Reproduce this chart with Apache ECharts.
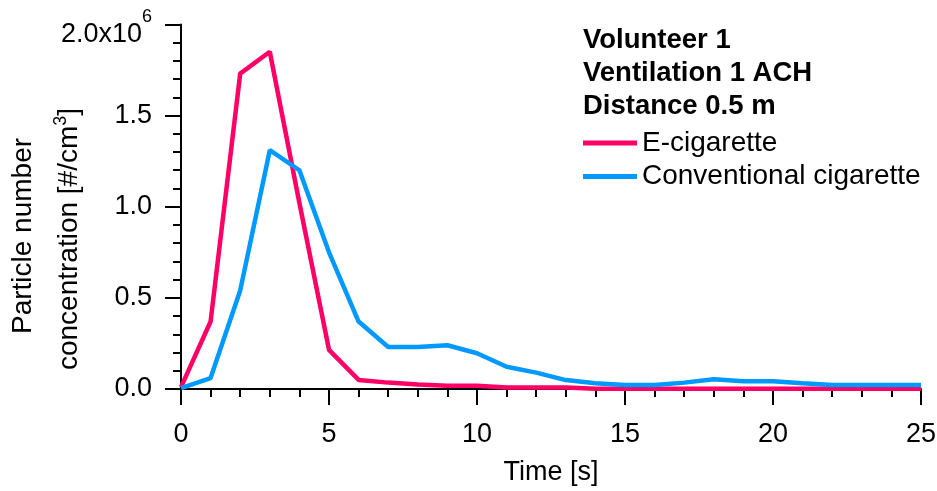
<!DOCTYPE html>
<html><head><meta charset="utf-8">
<script src="https://cdn.jsdelivr.net/npm/echarts@6/dist/echarts.min.js"></script>
<style>html,body{margin:0;padding:0;background:#fff}#c{width:937px;height:491px}</style>
</head><body><div id="c"></div>
<script>
// Time [s]
const time = [0,1,2,3,4,5,6,7,8,9,10,11,12,13,14,15,16,17,18,19,20,21,22,23,24,25];
// Particle number concentration, in units of 10^6 #/cm3
const eCigarette = [0.01,0.37,1.73,1.85,1.02,0.215,0.05,0.035,0.025,0.018,0.018,0.008,0.008,0.008,0.002,0.002,0.002,0.002,0.002,0.002,0.002,0.002,0.002,0.002,0.002,0.002];
const conventionalCigarette = [0.005,0.06,0.54,1.31,1.2,0.75,0.37,0.23,0.23,0.24,0.196,0.122,0.09,0.049,0.031,0.022,0.022,0.035,0.053,0.042,0.042,0.031,0.022,0.022,0.022,0.022];
const seriesNames = ['E-cigarette','Conventional cigarette'];
const xTickLabels = ['0','5','10','15','20','25'];
const yTickLabels = ['0.0','0.5','1.0','1.5','2.0x10'];
const yTopExponent = '6';
const titleLines = ['Volunteer 1','Ventilation 1 ACH','Distance 0.5 m'];
const yNameLines = ['Particle number','concentration [#/cm','3',']'];
const xName = 'Time [s]';

const FONT = '"Liberation Sans", Arial, sans-serif';
const pair = (ys) => time.map((t,i) => [t, ys[i]]);
const axisLineStyle = {color:'#000', width:2};

const chart = echarts.init(document.getElementById('c'), null, {renderer:'canvas'});
chart.setOption({
  animation:false,
  backgroundColor:'#fff',
  textStyle:{fontFamily:FONT},
  grid:{left:181, right:16, top:24.4, bottom:102, containLabel:false, outerBoundsMode:'none'},
  title:{
    text: titleLines.join('\n'), left:578, top:19,
    textStyle:{fontFamily:FONT, fontWeight:'bold', fontSize:27.5, lineHeight:33, color:'#000'}
  },
  legend:{
    data: seriesNames, orient:'vertical', left:578, top:124, itemGap:5.4,
    itemWidth:54, itemHeight:5, icon:'rect',
    textStyle:{fontFamily:FONT, fontSize:28, lineHeight:28, color:'#000'}
  },
  xAxis:{
    type:'value', min:0, max:25, interval:5, offset:4,
    axisLine:{show:true, lineStyle:axisLineStyle},
    axisTick:{show:true, length:16, lineStyle:axisLineStyle},
    minorTick:{show:true, splitNumber:5, length:8, lineStyle:axisLineStyle},
    splitLine:{show:false}, minorSplitLine:{show:false},
    axisLabel:{fontFamily:FONT, fontSize:27, color:'#000', margin:28,
      formatter:(v)=> xTickLabels[Math.round(v/5)]},
    name:xName, nameLocation:'middle', nameGap:66,
    nameTextStyle:{fontFamily:FONT, fontSize:27, color:'#000'}
  },
  yAxis:{
    type:'value', min:0, max:2, interval:0.5, offset:6,
    axisLine:{show:true, lineStyle:axisLineStyle},
    axisTick:{show:true, length:16, lineStyle:axisLineStyle},
    minorTick:{show:true, splitNumber:5, length:8, lineStyle:axisLineStyle},
    splitLine:{show:false}, minorSplitLine:{show:false},
    axisLabel:{fontFamily:FONT, fontSize:27, color:'#000', margin:23,
      formatter:(v)=>{ const i=Math.round(v/0.5); return i===4 ? '{a|'+yTickLabels[i]+'}{b|'+yTopExponent+'}' : yTickLabels[i]; },
      rich:{
        a:{fontFamily:FONT, fontSize:27, color:'#000', padding:[20,0,0,0]},
        b:{fontFamily:FONT, fontSize:18, color:'#000', verticalAlign:'top', padding:[7,0,0,0]}
      }
    }
  },
  graphic:[
    {type:'text', x:23.3, y:236, rotation:Math.PI/2, silent:true,
      style:{text:yNameLines[0], fontFamily:FONT, fontSize:28, fill:'#000', align:'center', verticalAlign:'middle'}},
    {type:'text', x:69.3, y:239, rotation:Math.PI/2, silent:true,
      style:{text:'{m|'+yNameLines[1]+'}{s|'+yNameLines[2]+'}{m|'+yNameLines[3]+'}', align:'center', verticalAlign:'middle',
        rich:{
          m:{fontFamily:FONT, fontSize:28, fill:'#000', lineHeight:34},
          s:{fontFamily:FONT, fontSize:18, fill:'#000', lineHeight:12, verticalAlign:'top'}
        }}}
  ],
  series:[
    {name:seriesNames[0], type:'line', data:pair(eCigarette), showSymbol:false, symbol:'none',
      itemStyle:{color:'#FF0066'}, lineStyle:{color:'#FF0066', width:4.5}, z:2},
    {name:seriesNames[1], type:'line', data:pair(conventionalCigarette), showSymbol:false, symbol:'none',
      itemStyle:{color:'#0099FF'}, lineStyle:{color:'#0099FF', width:4.5}, z:3}
  ]
});
</script></body></html>
